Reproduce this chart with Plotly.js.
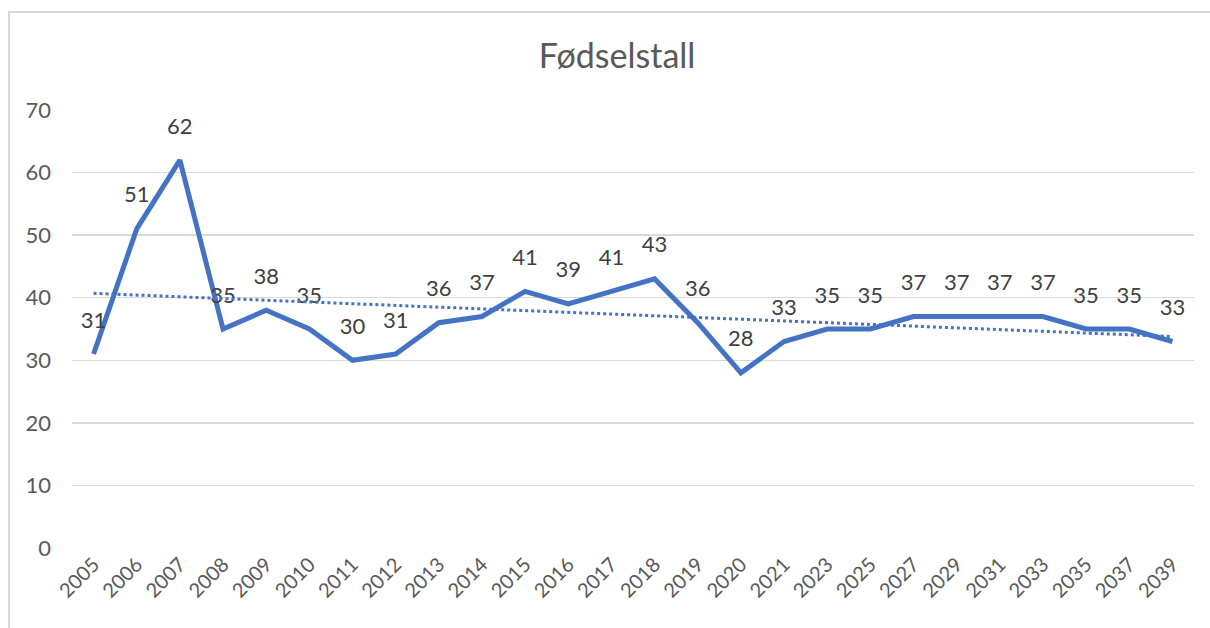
<!DOCTYPE html>
<html>
<head>
<meta charset="utf-8">
<script src="https://cdn.plot.ly/plotly-3.0.1.min.js"></script>
<style>
html,body{margin:0;padding:0;background:#fff;overflow:hidden;}
#chart{width:1210px;height:628px;position:absolute;left:0;top:0;}
#frame{position:absolute;left:8px;top:11px;width:1300px;height:700px;border:2px solid #d9d9d9;pointer-events:none;}
</style>
</head>
<body>
<div id="chart"></div>
<div id="frame"></div>
<script>
const years = ["2005","2006","2007","2008","2009","2010","2011","2012","2013","2014","2015","2016","2017","2018","2019","2020","2021","2023","2025","2027","2029","2031","2033","2035","2037","2039"];
const births = [31,51,62,35,38,35,30,31,36,37,41,39,41,43,36,28,33,35,35,37,37,37,37,35,35,33];
const trendEnds = [40.7, 33.8];
const chartTitle = "Fødselstall";

const font = "Lato, 'Open Sans', sans-serif";
const textColor = "#595959";
const lineColor = "#4472C4";

const main = {
  x: years, y: births, type: "scatter", mode: "lines+markers+text",
  line: {color: lineColor, width: 5},
  marker: {size: 32, color: "rgba(0,0,0,0)"},
  text: births.map(String), textposition: "top center",
  textfont: {family: font, size: 22, color: "#404040"},
  hoverinfo: "x+y", cliponaxis: false
};
const trend = {
  x: [years[0], years[years.length-1]], y: trendEnds, type: "scatter", mode: "lines",
  line: {color: lineColor, width: 3, dash: "dot"}, hoverinfo: "skip"
};

const layout = {
  width: 1210, height: 628,
  margin: {l: 72, r: 16, t: 110, b: 80},
  paper_bgcolor: "#fff", plot_bgcolor: "#fff",
  showlegend: false,
  title: {text: chartTitle, x: 0.51, xanchor: "center", y: 0.91, yanchor: "middle",
          font: {family: font, size: 34, color: textColor}},
  xaxis: {type: "category", categoryorder: "array", categoryarray: years,
          range: [-0.5, years.length - 0.5], tickangle: -45,
          showgrid: false, zeroline: false, showline: false, ticks: "",
          tickfont: {family: font, size: 20, color: textColor}, fixedrange: true},
  yaxis: {range: [0, 70], dtick: 10, showgrid: true, gridcolor: "#d9d9d9", gridwidth: 1.5,
          zeroline: false, showline: false, ticks: "", ticklabelstandoff: 20,
          tickfont: {family: font, size: 22, color: textColor}, fixedrange: true}
};
Plotly.newPlot("chart", [main, trend], layout, {displayModeBar: false, staticPlot: true});
</script>
</body>
</html>
